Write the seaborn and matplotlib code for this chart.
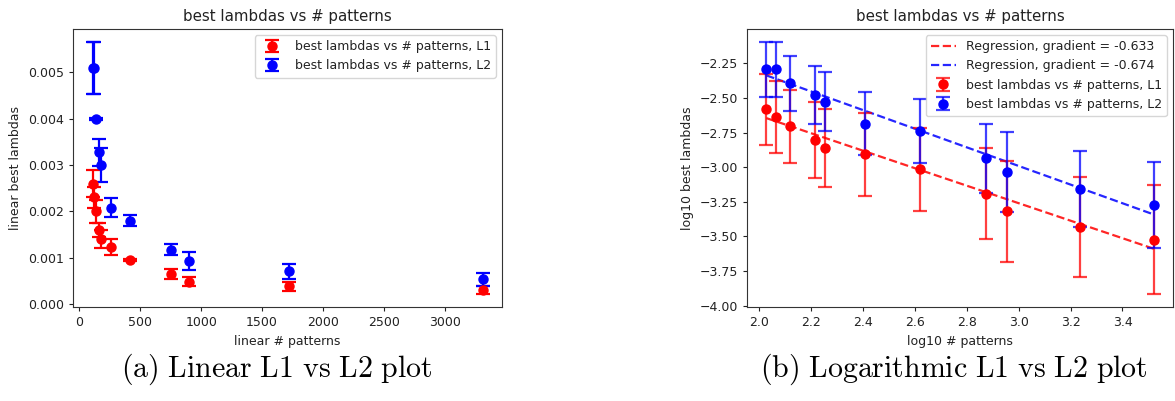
import numpy as np
import pandas as pd
import matplotlib
matplotlib.use("Agg")
import matplotlib.pyplot as plt
import seaborn as sns

# ---------------- data ----------------
n_patterns = [107, 117, 132, 164, 180, 257, 417, 750, 902, 1718, 3311]

# linear plot
l1_lambda = [0.0026, 0.0023, 0.0020, 0.0016, 0.0014, 0.00123, 0.00095, 0.00065, 0.00048, 0.00038, 0.00030]
l1_err = [0.0003, 0.00022, 0.00025, 0.00015, 0.0002, 0.00018, 0.00002, 0.0001, 0.0001, 0.0001, 0.00009]
l2_lambda = [0.0051, 0.0051, 0.0040, 0.00327, 0.0030, 0.00208, 0.0018, 0.00117, 0.00093, 0.00071, 0.00054]
l2_err = [0.00056, 0.00056, 0.00002, 0.0003, 0.00036, 0.00021, 0.00012, 0.00012, 0.0002, 0.00016, 0.00014]

# logarithmic plot
log_l1 = [-2.582, -2.637, -2.704, -2.805, -2.860, -2.906, -3.014, -3.192, -3.320, -3.430, -3.524]
log_l1_err = [0.255, 0.26, 0.265, 0.275, 0.28, 0.30, 0.30, 0.33, 0.365, 0.36, 0.395]
log_l2 = [-2.293, -2.293, -2.394, -2.481, -2.526, -2.685, -2.740, -2.935, -3.036, -3.156, -3.276]
log_l2_err = [0.20, 0.20, 0.20, 0.21, 0.215, 0.225, 0.23, 0.25, 0.29, 0.275, 0.31]

reg_l1_slope, reg_l1_intercept = -0.633, -1.361
reg_l2_slope, reg_l2_intercept = -0.674, -0.969

title = "best lambdas vs # patterns"
label_l1 = "best lambdas vs # patterns, L1"
label_l2 = "best lambdas vs # patterns, L2"

# ---------------- style ----------------
sns.set_style("white")
plt.rcParams.update({
    "font.family": ["DejaVu Sans"],
    "font.size": 9,
    "axes.titlesize": 10.8,
    "axes.labelsize": 9,
    "xtick.labelsize": 9,
    "ytick.labelsize": 9,
    "legend.fontsize": 9,
    "axes.edgecolor": "#333333",
    "axes.linewidth": 0.8,
    "xtick.bottom": True,
    "ytick.left": True,
    "xtick.major.size": 3,
    "ytick.major.size": 3,
    "xtick.color": "#222222",
    "ytick.color": "#222222",
    "text.color": "#222222",
    "axes.labelcolor": "#222222",
})

W, H = 1175, 401
fig = plt.figure(figsize=(W / 100, H / 100), dpi=100)
ax1 = fig.add_axes([73 / W, 1 - 307 / H, (502 - 73) / W, (307 - 29) / H])
ax2 = fig.add_axes([747 / W, 1 - 307 / H, (1173 - 747) / W, (307 - 29) / H])

ms, cs, elw = 6.5, 5, 1.6

# ---- left: linear ----
ax1.errorbar(n_patterns, l1_lambda, yerr=l1_err, fmt="o", color="red",
             ms=ms, capsize=cs, elinewidth=elw, capthick=elw, label=label_l1)
ax1.errorbar(n_patterns, l2_lambda, yerr=l2_err, fmt="o", color="blue",
             ms=ms, capsize=cs, elinewidth=elw, capthick=elw, label=label_l2)
ax1.set_title(title)
ax1.set_xlabel("linear # patterns")
ax1.set_ylabel("linear best lambdas")
ax1.set_yticks([0, 0.001, 0.002, 0.003, 0.004, 0.005])
ax1.set_yticklabels(["0.000", "0.001", "0.002", "0.003", "0.004", "0.005"])
ax1.legend(loc="upper right", framealpha=0.8)

# ---- right: logarithmic ----
log_x = np.log10(n_patterns)
xr = np.array([log_x[0], log_x[-1]])
reg_df = pd.DataFrame({
    "x": np.concatenate([xr, xr]),
    "y": np.concatenate([reg_l1_slope * xr + reg_l1_intercept,
                         reg_l2_slope * xr + reg_l2_intercept]),
    "series": ["Regression, gradient = -0.633"] * 2 + ["Regression, gradient = -0.674"] * 2,
})
sns.lineplot(data=reg_df, x="x", y="y", hue="series",
             palette=["red", "blue"], ax=ax2, linestyle="--", linewidth=1.6,
             alpha=0.85, legend=False)
ax2.lines[0].set_label("Regression, gradient = -0.633")
ax2.lines[1].set_label("Regression, gradient = -0.674")

eb1 = ax2.errorbar(log_x, log_l1, yerr=log_l1_err, fmt="o", color="red",
                   ms=ms, capsize=cs, elinewidth=elw, capthick=elw, label=label_l1)
eb2 = ax2.errorbar(log_x, log_l2, yerr=log_l2_err, fmt="o", color="blue",
                   ms=ms, capsize=cs, elinewidth=elw, capthick=elw, label=label_l2)
for eb in (eb1, eb2):
    for c in eb[1]:
        c.set_alpha(0.75)
    for c in eb[2]:
        c.set_alpha(0.75)
ax2.set_title(title)
ax2.set_xlabel("log10 # patterns")
ax2.set_ylabel("log10 best lambdas")
ax2.legend(loc="upper right", framealpha=0.8)

for ax in (ax1, ax2):
    for s in ax.spines.values():
        s.set_visible(True)

# ---- captions ----
fig.text(277 / W, 1 - 369 / H, r"$\mathrm{(a)\ Linear\ L1\ vs\ L2\ plot}$",
         math_fontfamily="cm", fontsize=21.5, ha="center", va="center", color="black")
fig.text(954 / W, 1 - 369 / H, r"$\mathrm{(b)\ Logarithmic\ L1\ vs\ L2\ plot}$",
         math_fontfamily="cm", fontsize=21.5, ha="center", va="center", color="black")

fig.savefig("out.png", dpi=100)
